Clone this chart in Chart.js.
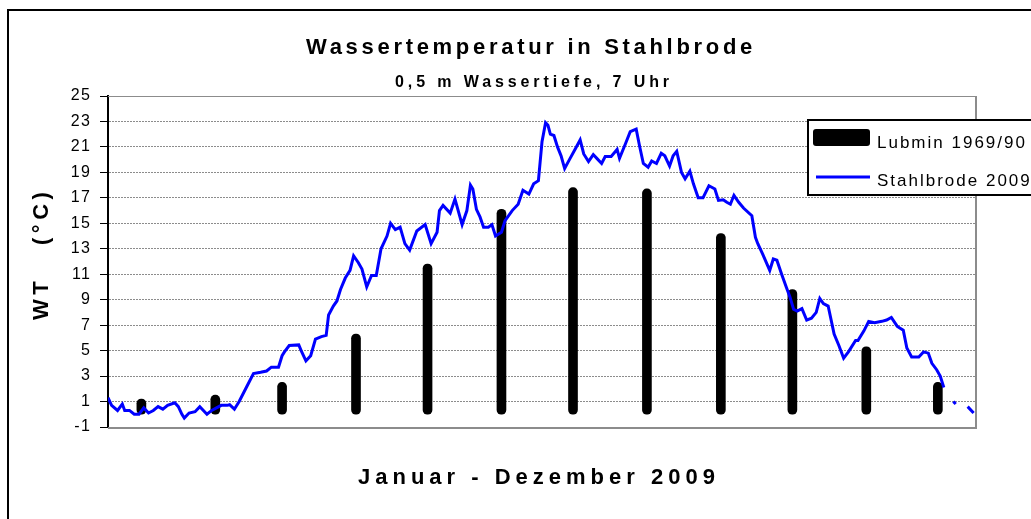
<!DOCTYPE html>
<html lang="de">
<head>
<meta charset="utf-8">
<title>Wassertemperatur in Stahlbrode</title>
<script src="https://cdn.jsdelivr.net/npm/chart.js@4.4.1/dist/chart.umd.min.js"></script>
<style>
  html, body { margin: 0; padding: 0; background: #fff; }
</style>
</head>
<body>
<canvas id="grafik" width="1031" height="519"></canvas>
<script>
// Monatsmittel Lubmin (Balken), jeweils am 15. des Monats (Tag des Jahres, 0 = 1. Januar)
const monate = ['Januar', 'Februar', 'März', 'April', 'Mai', 'Juni', 'Juli', 'August', 'September', 'Oktober', 'November', 'Dezember'];
const monatsmitte = [14, 45, 73, 104, 134, 165, 195, 226, 257, 287, 318, 348];
const lubmin = [1.2, 1.5, 2.5, 6.3, 11.8, 16.1, 17.8, 17.7, 14.2, 9.8, 5.3, 2.5];

// Tageswerte Stahlbrode 2009 (Tag des Jahres / Temperatur), null = Lücke
const tage = [
    0, 1.5, 4, 6, 7, 9, 11, 13, 15, 17,
    19, 21, 23, 25, 28, 29.5, 31, 32, 34, 36.5,
    38.5, 40, 41.5, 43.5, 45.5, 47.5, 50, 51, 53, 55,
    58, 61, 64, 66.5, 68.5, 71.5, 73, 74, 76, 80,
    81, 83, 85, 87, 89.5, 91.5, 92.5, 94.5, 96, 97.5,
    99.5, 101.5, 103, 105, 106.5, 108.5, 110.5, 112.5, 114.5, 117,
    118.5, 120.5, 122.5, 124.5, 126.5, 129.5, 133, 135.5, 138, 139,
    140.5, 143.5, 145.5, 148.5, 150.5, 152, 153, 154.5, 156, 157.5,
    159.5, 161, 162.5, 165, 166.5, 169.5, 172, 174, 176.5, 178.5,
    180.5, 182, 183.5, 184.5, 185.5, 187, 188.5, 190, 191.5, 193.5,
    196, 198, 199.5, 201.5, 203.5, 205, 207, 208.5, 211, 213.5,
    214.5, 217, 219, 221.5, 223, 224.5, 226.5, 228, 230, 232,
    233.5, 235.5, 237, 238.5, 240.5, 242, 244, 245.5, 247.5, 249.5,
    252, 254.5, 256, 258, 259.5, 261, 262.5, 264.5, 266.5, 270,
    271.5, 272.5, 274.5, 277.5, 279, 280.5, 282.5, 284.5, 286, 287.5,
    289, 291, 293, 295, 297, 298.5, 300, 302, 304.5, 306.5,
    308.5, 310.5, 313.5, 314.5, 317, 319, 321.5, 324.5, 326.5, 328.5,
    331, 333.5, 335, 337, 340, 342, 344, 345.5, 347.5, 349,
    350.5, 352, 354.5, 355.5, 358, 360.5, 363
];
const stahlbrode = [
    1.3, 0.7, 0.3, 0.8, 0.3, 0.3, 0.0, 0.0, 0.5, 0.1,
    0.3, 0.6, 0.4, 0.7, 0.9, 0.6, 0.0, -0.3, 0.1, 0.2,
    0.6, 0.3, 0.0, 0.3, 0.5, 0.7, 0.7, 0.75, 0.4, 1.0,
    2.1, 3.2, 3.3, 3.4, 3.7, 3.7, 4.6, 4.9, 5.4, 5.45,
    5.0, 4.2, 4.6, 5.9, 6.1, 6.2, 7.8, 8.5, 8.9, 9.8,
    10.7, 11.3, 12.45, 11.9, 11.4, 10.0, 10.9, 10.9, 13.0, 14.0,
    15.0, 14.5, 14.7, 13.4, 12.9, 14.4, 14.9, 13.4, 14.3, 16.0,
    16.4, 15.8, 16.9, 14.9, 16.0, 18.0, 17.7, 16.1, 15.5, 14.7,
    14.7, 14.9, 14.0, 14.3, 15.2, 16.0, 16.5, 17.6, 17.3, 18.1,
    18.35, 21.4, 22.9, 22.7, 22.0, 21.9, 21.0, 20.3, 19.3, 20.0,
    20.85, 21.55, 20.45, 19.85, 20.4, 20.1, 19.7, 20.25, 20.25, 20.8,
    20.1, 21.25, 22.2, 22.4, 21.0, 19.7, 19.4, 19.9, 19.7, 20.5,
    20.3, 19.5, 20.3, 20.65, 19.0, 18.5, 19.1, 18.1, 17.0, 17.0,
    17.95, 17.7, 16.8, 16.85, 16.65, 16.5, 17.2, 16.65, 16.2, 15.6,
    13.9, 13.4, 12.6, 11.3, 12.2, 12.1, 11.0, 9.95, 9.2, 8.25,
    8.1, 8.3, 7.4, 7.55, 8.0, 9.1, 8.7, 8.5, 6.3, 5.4,
    4.4, 4.9, 5.8, 5.8, 6.55, 7.3, 7.2, 7.3, 7.4, 7.6,
    6.9, 6.6, 5.2, 4.5, 4.5, 4.9, 4.8, 4.0, 3.5, 3.0,
    2.1, null, 1.0, 0.8, null, 0.6, 0.1
];

const schrift = '"Liberation Sans", Arial, sans-serif';

// Texte mit Sperrung zeichnen
function schreibe(ctx, text, x, y, font, sperrung) {
    ctx.font = font;
    ctx.letterSpacing = sperrung + 'px';
    ctx.fillText(text, x, y);
}

// Rahmen, Titel, Achsentitel und Legende im Excel-Stil
const dekoration = {
    id: 'dekoration',
    beforeDraw(chart) {
        chart.ctx.letterSpacing = '1.5px';
    },
    beforeDatasetsDraw(chart) {
        const { ctx, chartArea: a } = chart;
        ctx.save();
        ctx.strokeStyle = '#8c8c8c';
        ctx.lineWidth = 1;
        ctx.beginPath();
        ctx.moveTo(a.left, a.top + 0.5);
        ctx.lineTo(a.right, a.top + 0.5);
        ctx.stroke();
        ctx.lineWidth = 2;
        ctx.beginPath();
        ctx.moveTo(a.right, a.top);
        ctx.lineTo(a.right, a.bottom + 1);
        ctx.lineTo(a.left, a.bottom + 1);
        ctx.stroke();
        ctx.restore();
    },
    afterDraw(chart) {
        const ctx = chart.ctx;
        ctx.save();
        ctx.fillStyle = '#000';
        ctx.textAlign = 'left';
        ctx.textBaseline = 'alphabetic';

        // äußerer Diagrammrahmen
        ctx.strokeStyle = '#000';
        ctx.lineWidth = 2;
        ctx.strokeRect(8, 10, 1100, 600);

        schreibe(ctx, 'Wassertemperatur in Stahlbrode', 306, 54, 'bold 22px ' + schrift, 3.7);
        schreibe(ctx, '0,5 m Wassertiefe, 7 Uhr', 395, 87, 'bold 16px ' + schrift, 3.9);
        schreibe(ctx, 'Januar - Dezember 2009', 358, 484, 'bold 22px ' + schrift, 5);

        ctx.save();
        ctx.translate(48, 320);
        ctx.rotate(-Math.PI / 2);
        schreibe(ctx, 'WT   (°C)', 0, 0, 'bold 22px ' + schrift, 4.5);
        ctx.restore();

        // Legende
        const ds = chart.data.datasets;
        ctx.fillStyle = '#fff';
        ctx.fillRect(808, 120, 300, 75);
        ctx.strokeStyle = '#000';
        ctx.lineWidth = 2;
        ctx.strokeRect(808, 120, 300, 75);

        ctx.fillStyle = ds[0].backgroundColor;
        ctx.beginPath();
        ctx.roundRect(813, 129, 57, 17, 3);
        ctx.fill();

        ctx.strokeStyle = ds[1].borderColor;
        ctx.lineWidth = 3;
        ctx.beginPath();
        ctx.moveTo(816, 177);
        ctx.lineTo(870, 177);
        ctx.stroke();

        ctx.fillStyle = '#000';
        schreibe(ctx, ds[0].label, 877, 148, '17px ' + schrift, 2);
        schreibe(ctx, ds[1].label, 877, 186, '17px ' + schrift, 2);

        ctx.restore();
        ctx.letterSpacing = '0px';
    }
};

const grafik = new Chart(document.getElementById('grafik'), {
    type: 'bar',
    data: {
        datasets: [
            {
                label: 'Lubmin 1969/90',
                data: monatsmitte.map((t, i) => ({ x: t, y: lubmin[i] })),
                backgroundColor: '#000',
                borderWidth: 0,
                borderRadius: 5,
                borderSkipped: false,
                barThickness: 9,
                order: 1
            },
            {
                type: 'line',
                label: 'Stahlbrode 2009',
                data: tage.map((t, i) => ({ x: t, y: stahlbrode[i] })),
                borderColor: '#0000ff',
                borderWidth: 3,
                pointRadius: 0,
                tension: 0,
                spanGaps: false,
                order: 0
            }
        ]
    },
    options: {
        responsive: false,
        animation: false,
        devicePixelRatio: 1,
        layout: { padding: { top: 96, bottom: 92, left: 0, right: 55 } },
        plugins: {
            legend: { display: false },
            tooltip: { enabled: false },
            title: { display: false }
        },
        scales: {
            x: {
                type: 'linear',
                display: false,
                min: 0,
                max: 364,
                offset: false
            },
            y: {
                min: -1,
                max: 25,
                ticks: {
                    stepSize: 2,
                    color: '#000',
                    padding: 8.5,
                    font: { family: schrift, size: 16 }
                },
                grid: {
                    color: '#8c8c8c',
                    tickColor: '#000',
                    tickLength: 8,
                    lineWidth: 1
                },
                border: {
                    color: '#000',
                    width: 2,
                    dash: [2, 1]
                },
                afterFit(scale) {
                    scale.width = 108;
                }
            }
        }
    },
    plugins: [dekoration]
});
</script>
</body>
</html>
